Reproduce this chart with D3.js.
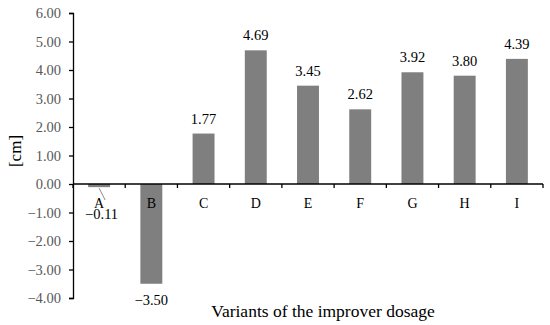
<!DOCTYPE html>
<html>
<head>
<meta charset="utf-8">
<script src="https://cdn.jsdelivr.net/npm/d3@7"></script>
<style>
  body { margin: 0; background: #fff; }
  svg { display: block; }
  text { font-family: "Liberation Serif", "Times New Roman", serif; }
</style>
</head>
<body>
<svg id="chart" width="550" height="325"></svg>
<script>
const categories = ["A", "B", "C", "D", "E", "F", "G", "H", "I"];
const values = [-0.11, -3.50, 1.77, 4.69, 3.45, 2.62, 3.92, 3.80, 4.39];
const yTicks = [-4, -3, -2, -1, 0, 1, 2, 3, 4, 5, 6];
const xTitle = "Variants of the improver dosage";
const yTitle = "[cm]";

(function () {
const svg = d3.select("#chart");
const mLeft = 73, mRight = 543, mTop = 13, mBottom = 298;
const serif = '"Liberation Serif", "Times New Roman", serif';

const y = d3.scaleLinear().domain([-4, 6]).range([mBottom, mTop]);
const x = d3.scaleBand().domain(categories).range([mLeft, mRight])
  .paddingInner(0.58).paddingOuter(0.29);
const step = x.step();

// Bars
svg.append("g").selectAll("rect").data(values).join("rect")
  .attr("x", (d, i) => x(categories[i]))
  .attr("width", x.bandwidth())
  .attr("y", d => y(Math.max(0, d)))
  .attr("height", d => Math.abs(y(d) - y(0)))
  .attr("fill", "#7f7f7f");

// Y axis
const fmt = v => d3.format(".2f")(v).replace("-", "\u2212");
const yAxis = d3.axisLeft(y).tickValues(yTicks).tickSize(4).tickPadding(8)
  .tickFormat(fmt);
const gy = svg.append("g").attr("transform", `translate(${mLeft},0)`).call(yAxis);
gy.attr("font-family", null);
gy.select(".domain").attr("stroke", "#000").attr("stroke-width", 1.3);
gy.selectAll(".tick line").attr("stroke", "#000").attr("stroke-width", 1.3);
gy.selectAll(".tick text").attr("fill", "#595959")
  .style("font-size", "14.5px").style("font-family", serif);

// X axis line at zero
const bounds = d3.range(categories.length + 1).map(i => mLeft + i * step);
svg.append("line").attr("x1", mLeft).attr("x2", mRight)
  .attr("y1", y(0)).attr("y2", y(0)).attr("stroke", "#000").attr("stroke-width", 1.3);
svg.append("g").selectAll("line").data(bounds).join("line")
  .attr("x1", d => d).attr("x2", d => d)
  .attr("y1", y(0)).attr("y2", y(0) + 4)
  .attr("stroke", "#000").attr("stroke-width", 1.3);

// Category labels
svg.append("g").selectAll("text").data(categories).join("text")
  .attr("x", d => x(d) + x.bandwidth() / 2)
  .attr("y", y(0) + 24)
  .attr("text-anchor", "middle")
  .style("font-size", "14px")
  .attr("fill", "#000")
  .text(d => d);

// Value labels
svg.append("g").selectAll("text").data(values).join("text")
  .attr("x", (d, i) => x(categories[i]) + x.bandwidth() / 2 + (i === 0 ? 2.5 : 0))
  .attr("y", (d, i) => {
    if (i === 0) return y(0) + 35;
    return d >= 0 ? y(d) - 10 : y(d) + 21;
  })
  .attr("text-anchor", "middle")
  .style("font-size", "14.5px")
  .attr("fill", "#000")
  .text(d => fmt(d));

// Leader line for A
const ax = x("A") + x.bandwidth() / 2;
svg.append("line")
  .attr("x1", ax).attr("y1", y(values[0]) + 1)
  .attr("x2", ax + 6).attr("y2", y(0) + 16)
  .attr("stroke", "#8c8c8c").attr("stroke-width", 1);

// Titles
svg.append("text")
  .attr("x", 323).attr("y", 317)
  .attr("text-anchor", "middle").style("font-size", "17.5px").attr("fill", "#000")
  .text(xTitle);
svg.append("text")
  .attr("transform", `translate(21,151) rotate(-90)`)
  .attr("text-anchor", "middle").style("font-size", "17px").attr("fill", "#000")
  .text(yTitle);
})();
</script>
</body>
</html>
